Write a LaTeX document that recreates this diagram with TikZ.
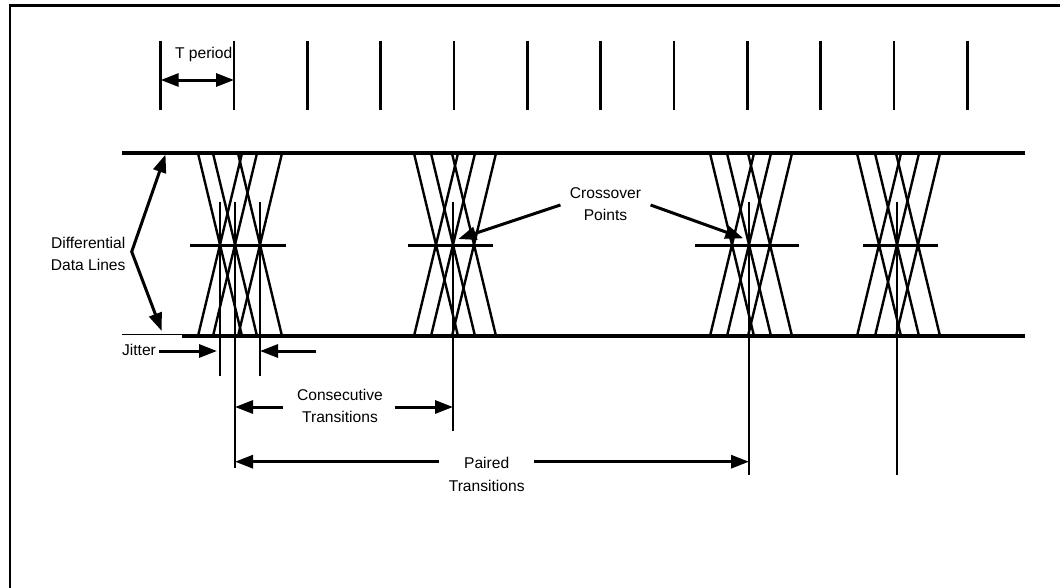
\documentclass[tikz,border=0pt]{standalone}
\usepackage{fontspec}
\setmainfont{Liberation Sans}
\usetikzlibrary{positioning,arrows.meta,calc}

\begin{document}
\begin{tikzpicture}[x=1pt,y=-1pt,
    every node/.style={font=\fontsize{15.6}{22.5}\selectfont},
    >={Triangle[length=18pt,width=13pt]},
    dim/.style={line width=3pt},
    sigline/.style={line width=4pt},
    trans/.style={line width=2.4pt},
    clkmark/.style={line width=2.6pt}]

    \clip (0,0) rectangle (1060,587);
    \draw[line width=2.6pt] (10,5.7) rectangle (1100,640);

% clock ticks
    \foreach \k in {0,...,11} {
        \coordinate (ck\k) at (160.7+\k*73.33,40.7);
        \draw[clkmark] (ck\k) -- ++(0,69.3);
    }
    \node (tper) at (203.7,54.4) {T period};
    \draw[<->,dim] ($(ck0)+(0,39.3)$) -- ($(ck1)+(0,39.3)$);

% data lines
    \draw[sigline] (122,153.3) -- (1025,153.3);
    \draw[sigline] (182.3,336) -- (1025,336);
    \draw[line width=1pt] (122,334.8) -- (182.3,334.8);

% transitions: center / left / right / bar left / bar right / marker end
    \foreach \c/\a/\b/\l/\r/\e [count=\i] in {235/-15/25/45/51/468, 453/-17/21/45/40/431, 749/-17/21/54/50/475, 897/-18/21/34/41/475} {
        \foreach \o in {\a,0,\b} {
            \draw[trans] (\c+\o-22,153.3) -- (\c+\o+22,336);
            \draw[trans] (\c+\o-22,336) -- (\c+\o+22,153.3);
        }
        \draw[clkmark] (\c-\l,245.7) -- (\c+\r,245.7);
        \coordinate (v\i) at (\c,201.7);
        \draw[clkmark] (v\i) -- (\c,\e);
    }

% jitter
    \coordinate (j1) at (220,201.7);
    \coordinate (j2) at (260,201.7);
    \draw[clkmark] (j1) -- ++(0,174.3);
    \draw[clkmark] (j2) -- ++(0,174.3);

    \node (jit) at (139,349.5) {Jitter};
    \coordinate (jl) at (217,351);
    \coordinate (jr) at (316,351);
    \draw[->,dim] (jit.east |- jl) -- (jl);
    \draw[->,dim] (jr) -- (jr -| j2);

% labels
    \node (diff) at (88.2,255) {\begin{tabular}{c} Differential \\ Data Lines \end{tabular}};
    \coordinate (dbend) at (131.7,251.7);
    \coordinate (dtop) at (165.5,154.5);
    \coordinate (dbot) at (161.7,331);
    \draw[<->,dim] (dtop) -- (dbend) -- (dbot);

    \node (cross) at (605.5,205) {\begin{tabular}{c} Crossover \\ Points \end{tabular}};
    \coordinate (cx1) at (458.3,239);
    \coordinate (cx2) at (743.3,238.3);
    \draw[->,dim] (cross.west) -- (cx1);
    \draw[->,dim] (cross.east) -- (cx2);

    \node (cons) at (340,407) {\begin{tabular}{c} Consecutive \\ Transitions \end{tabular}};
    \draw[->,dim,shorten <=5pt] (cons.west) -- (cons.west -| v1);
    \draw[->,dim,shorten <=3pt] (cons.east) -- (cons.east -| v2);

    \node (pair) at (486.7,475.5) {\begin{tabular}{c} Paired \\ Transitions \end{tabular}};
    \coordinate (pa) at (486.7,461.7);
    \draw[->,dim] (pair.west |- pa) -- (pa -| v1);
    \draw[->,dim] (pair.east |- pa) -- (pa -| v3);

\end{tikzpicture}
\end{document}
